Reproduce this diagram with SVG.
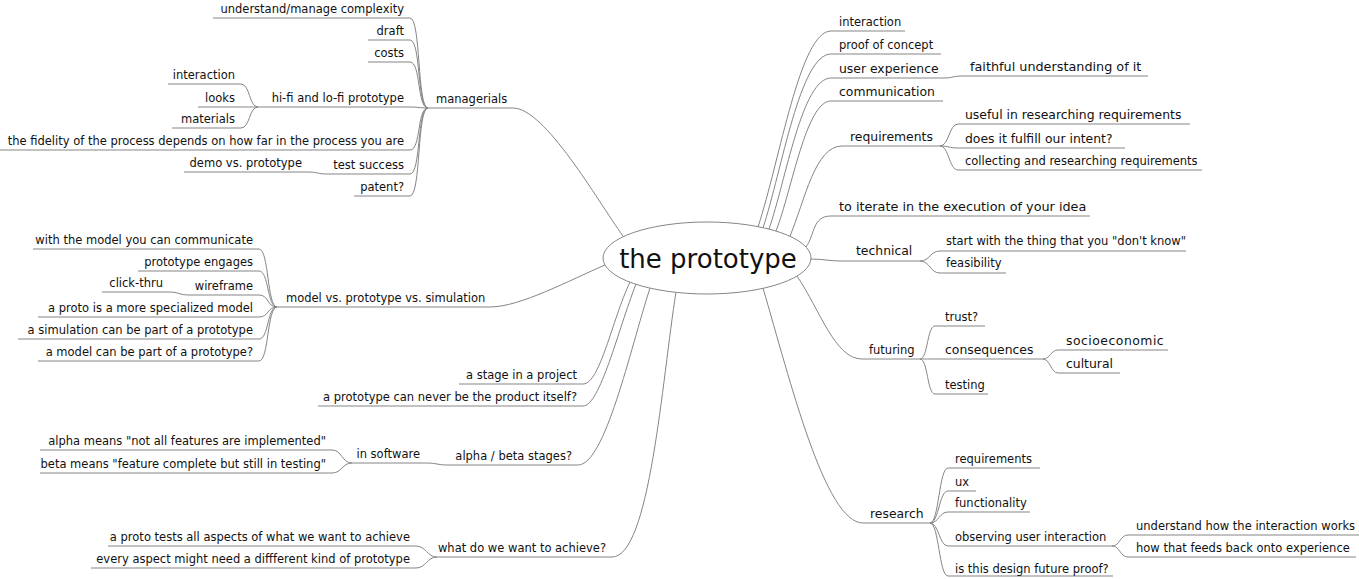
<svg xmlns="http://www.w3.org/2000/svg" width="1359" height="579" viewBox="0 0 1359 579">
<style>
text{font-family:"DejaVu Sans","Liberation Sans",sans-serif;font-size:11.5px;fill:#111}
.l{text-anchor:end}
.b{font-size:12.4px}
.bb{font-size:12.8px}
.u,.e{fill:none;stroke:#858585;stroke-width:1}
.root{fill:#fff;stroke:#858585;stroke-width:1}
.rt{font-size:26px;text-anchor:middle}
</style>
<rect width="1359" height="579" fill="#fff"/>
<g id="connectors">
<path class="e" d="M623 236 C597 200 545 108 513 108"/>
<path class="e" d="M605 265 C570 280 520 307 490 307"/>
<path class="e" d="M630 282 C612 320 600 384 583 384"/>
<path class="e" d="M636 284 C618 330 600 406 583 406"/>
<path class="e" d="M650 288 C630 350 605 465 578 465"/>
<path class="e" d="M676 292 C662 380 650 557 612 557"/>
<path class="e" d="M758 227 C780 160 800 31 831 31"/>
<path class="e" d="M763 228 C782 170 800 54 831 54"/>
<path class="e" d="M769 229 C786 180 802 78 831 78"/>
<path class="e" d="M776 231 C792 190 806 101 831 101"/>
<path class="e" d="M790 236 C805 200 815 146 842 146"/>
<path class="e" d="M806 247 C815 235 812 216 831 216"/>
<path class="e" d="M811 259 C822 259 830 261 840 261"/>
<path class="e" d="M797 276 C820 310 835 359 862 359"/>
<path class="e" d="M763 288 C790 380 825 523 863 523"/>
<path class="e" d="M428 108 C417 108 421 18 410 18"/>
<path class="e" d="M428 108 C417 108 421 40 410 40"/>
<path class="e" d="M428 108 C417 108 421 62 410 62"/>
<path class="e" d="M428 108 C420 108 418 107 410 107"/>
<path class="e" d="M428 108 C417 108 421 150 410 150"/>
<path class="e" d="M428 108 C417 108 421 174 410 174"/>
<path class="e" d="M428 108 C417 108 421 196 410 196"/>
<path class="e" d="M258 107 C249 107 250 84 241 84"/>
<path class="e" d="M258 107 C250 107 249 107 241 107"/>
<path class="e" d="M258 107 C249 107 250 128 241 128"/>
<path class="e" d="M327 174 C318 174 317 172 308 172"/>
<path class="e" d="M277 307 C267 307 269 249 259 249"/>
<path class="e" d="M277 307 C267 307 269 271 259 271"/>
<path class="e" d="M277 307 C267 307 269 295 259 295"/>
<path class="e" d="M277 307 C267 307 269 317 259 317"/>
<path class="e" d="M277 307 C267 307 269 339 259 339"/>
<path class="e" d="M277 307 C267 307 269 361 259 361"/>
<path class="e" d="M189 295 C179 295 179 292 169 292"/>
<path class="e" d="M448 465 C437 465 437 463 426 463"/>
<path class="e" d="M352 463 C342 463 342 450 332 450"/>
<path class="e" d="M352 463 C342 463 342 473 332 473"/>
<path class="e" d="M437 557 C427 557 426 546 416 546"/>
<path class="e" d="M437 557 C427 557 426 568 416 568"/>
<path class="e" d="M944 78 C953 78 953 76 962 76"/>
<path class="e" d="M940 146 C949 146 949 124 958 124"/>
<path class="e" d="M940 146 C949 146 949 148 958 148"/>
<path class="e" d="M940 146 C949 146 949 170 958 170"/>
<path class="e" d="M920 261 C930 261 930 251 940 251"/>
<path class="e" d="M920 261 C930 261 930 273 940 273"/>
<path class="e" d="M920 359 C928 359 927 326 935 326"/>
<path class="e" d="M920 359 C928 359 927 359 935 359"/>
<path class="e" d="M920 359 C928 359 927 394 935 394"/>
<path class="e" d="M1043 359 C1050 359 1051 350 1058 350"/>
<path class="e" d="M1043 359 C1050 359 1051 373 1058 373"/>
<path class="e" d="M930 523 C939 523 939 468 948 468"/>
<path class="e" d="M930 523 C939 523 939 491 948 491"/>
<path class="e" d="M930 523 C939 523 939 512 948 512"/>
<path class="e" d="M930 523 C939 523 939 546 948 546"/>
<path class="e" d="M930 523 C939 523 939 576 948 576"/>
<path class="e" d="M1112 546 C1120 546 1120 535 1128 535"/>
<path class="e" d="M1112 546 C1120 546 1120 557 1128 557"/>
</g>
<g id="root">
<ellipse class="root" cx="707" cy="258" rx="104" ry="36"/>
<text class="rt" x="708" y="268">the prototype</text>
</g>
<g id="managerials"><path class="u" d="M428 108H513"/><text x="436" y="103">managerials</text></g>
<g id="n-complexity"><path class="u" d="M213 18H410"/><text class="l" x="404" y="13">understand/manage complexity</text></g>
<g id="n-draft"><path class="u" d="M368 40H410"/><text class="l" x="404" y="35">draft</text></g>
<g id="n-costs"><path class="u" d="M368 62H410"/><text class="l" x="404" y="57">costs</text></g>
<g id="n-hifi"><path class="u" d="M258 107H410"/><text class="l" x="404" y="102">hi-fi and lo-fi prototype</text></g>
<g id="n-interaction-l"><path class="u" d="M168 84H241"/><text class="l" x="235" y="79">interaction</text></g>
<g id="n-looks"><path class="u" d="M198 107H241"/><text class="l" x="235" y="102">looks</text></g>
<g id="n-materials"><path class="u" d="M172 128H241"/><text class="l" x="235" y="123">materials</text></g>
<g id="n-fidelity"><path class="u" d="M0 150H410"/><text class="l" x="404" y="145">the fidelity of the process depends on how far in the process you are</text></g>
<g id="n-test"><path class="u" d="M327 174H410"/><text class="l" x="404" y="169">test success</text></g>
<g id="n-demo"><path class="u" d="M184 172H308"/><text class="l" x="302" y="167">demo vs. prototype</text></g>
<g id="n-patent"><path class="u" d="M354 196H410"/><text class="l" x="404" y="191">patent?</text></g>
<g id="model"><path class="u" d="M277 307H490"/><text x="286" y="302">model vs. prototype vs. simulation</text></g>
<g id="n-communicate"><path class="u" d="M33 249H259"/><text class="l" x="253" y="244">with the model you can communicate</text></g>
<g id="n-engages"><path class="u" d="M138 271H259"/><text class="l" x="253" y="266">prototype engages</text></g>
<g id="n-wireframe"><path class="u" d="M189 295H259"/><text class="l" x="253" y="290">wireframe</text></g>
<g id="n-clickthru"><path class="u" d="M102 292H169"/><text class="l" x="163" y="287">click-thru</text></g>
<g id="n-specialized"><path class="u" d="M38 317H259"/><text class="l" x="253" y="312">a proto is a more specialized model</text></g>
<g id="n-simulation"><path class="u" d="M18 339H259"/><text class="l" x="253" y="334">a simulation can be part of a prototype</text></g>
<g id="n-modelpart"><path class="u" d="M38 361H259"/><text class="l" x="253" y="356">a model can be part of a prototype?</text></g>
<g id="n-stage"><path class="u" d="M459 384H583"/><text class="l" x="577" y="379">a stage in a project</text></g>
<g id="n-never"><path class="u" d="M318 406H583"/><text class="l" x="577" y="401">a prototype can never be the product itself?</text></g>
<g id="n-alphabeta"><path class="u" d="M448 465H578"/><text class="l" x="572" y="460">alpha / beta stages?</text></g>
<g id="n-software"><path class="u" d="M352 463H426"/><text class="l" x="420" y="458">in software</text></g>
<g id="n-alpha"><path class="u" d="M40 450H332"/><text class="l" x="326" y="445">alpha means "not all features are implemented"</text></g>
<g id="n-beta"><path class="u" d="M40 473H332"/><text class="l" x="326" y="468">beta means "feature complete but still in testing"</text></g>
<g id="n-achieve"><path class="u" d="M437 557H612"/><text class="l" x="606" y="552">what do we want to achieve?</text></g>
<g id="n-tests"><path class="u" d="M108 546H416"/><text class="l" x="410" y="541">a proto tests all aspects of what we want to achieve</text></g>
<g id="n-aspect"><path class="u" d="M91 568H416"/><text class="l" x="410" y="563">every aspect might need a diffferent kind of prototype</text></g>
<g id="n-interaction-r"><path class="u" d="M831 31H905"/><text x="839" y="26">interaction</text></g>
<g id="n-proof"><path class="u" d="M831 54H941"/><text x="839" y="49">proof of concept</text></g>
<g id="n-ux"><path class="u" d="M831 78H944"/><text class="b" x="839" y="73">user experience</text></g>
<g id="n-faithful"><path class="u" d="M962 76H1148"/><text class="bb" x="970" y="71">faithful understanding of it</text></g>
<g id="n-communication"><path class="u" d="M831 101H943"/><text class="b" x="839" y="96">communication</text></g>
<g id="n-requirements"><path class="u" d="M842 146H940"/><text class="b" x="850" y="141">requirements</text></g>
<g id="n-useful"><path class="u" d="M958 124H1190"/><text class="b" x="965" y="119">useful in researching requirements</text></g>
<g id="n-fulfill"><path class="u" d="M958 148H1125"/><text class="b" x="965" y="143">does it fulfill our intent?</text></g>
<g id="n-collecting"><path class="u" d="M958 170H1202"/><text x="965" y="165">collecting and researching requirements</text></g>
<g id="n-iterate"><path class="u" d="M831 216H1090"/><text class="bb" x="839" y="211">to iterate in the execution of your idea</text></g>
<g id="n-technical"><path class="u" d="M840 261H920"/><text class="b" x="856" y="255">technical</text></g>
<g id="n-dontknow"><path class="u" d="M940 251H1186"/><text x="946" y="245">start with the thing that you "don't know"</text></g>
<g id="n-feasibility"><path class="u" d="M940 273H1006"/><text x="946" y="267">feasibility</text></g>
<g id="n-futuring"><path class="u" d="M862 359H920"/><text x="869" y="354">futuring</text></g>
<g id="n-trust"><path class="u" d="M935 326H985"/><text x="945" y="321">trust?</text></g>
<g id="n-consequences"><path class="u" d="M935 359H1043"/><text class="b" x="945" y="354">consequences</text></g>
<g id="n-socio"><path class="u" d="M1058 350H1168"/><text class="b" x="1066" y="345" letter-spacing="0.5">socioeconomic</text></g>
<g id="n-cultural"><path class="u" d="M1058 373H1120"/><text class="b" x="1066" y="368">cultural</text></g>
<g id="n-testing"><path class="u" d="M935 394H988"/><text x="945" y="389">testing</text></g>
<g id="n-research"><path class="u" d="M863 523H930"/><text class="b" x="870" y="518">research</text></g>
<g id="n-rreq"><path class="u" d="M948 468H1040"/><text x="955" y="463">requirements</text></g>
<g id="n-rux"><path class="u" d="M948 491H976"/><text x="955" y="486">ux</text></g>
<g id="n-functionality"><path class="u" d="M948 512H1030"/><text x="955" y="507">functionality</text></g>
<g id="n-observing"><path class="u" d="M948 546H1112"/><text x="955" y="541">observing user interaction</text></g>
<g id="n-works"><path class="u" d="M1128 535H1359"/><text x="1136" y="530">understand how the interaction works</text></g>
<g id="n-feeds"><path class="u" d="M1128 557H1356"/><text x="1136" y="552">how that feeds back onto experience</text></g>
<g id="n-futureproof"><path class="u" d="M948 576H1113"/><text x="955" y="573">is this design future proof?</text></g>
</svg>
